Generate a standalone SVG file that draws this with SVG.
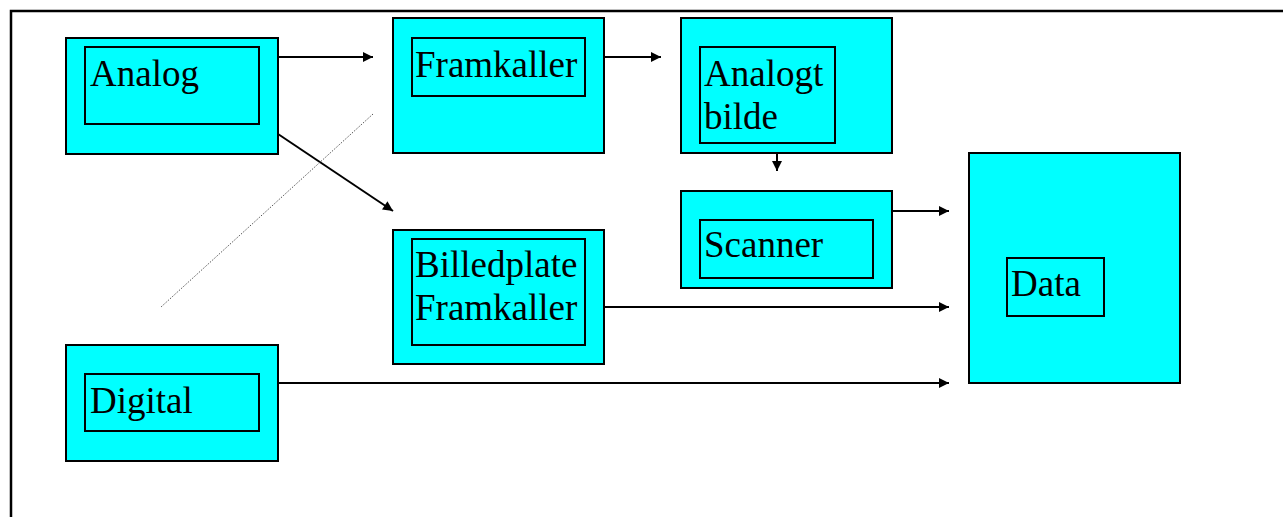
<svg xmlns="http://www.w3.org/2000/svg" width="1283" height="517" viewBox="0 0 1283 517">
<style>
.o{fill:#00ffff;stroke:#000;stroke-width:2}
.i{fill:#00ffff;stroke:#000;stroke-width:2}
text{font-family:"Liberation Serif","Times New Roman",serif;font-size:37px;fill:#000}
.c{stroke:#000;stroke-width:2;fill:none;marker-end:url(#a)}
</style>
<defs>
<marker id="a" viewBox="0 0 10 10" refX="10" refY="5" markerWidth="5.5" markerHeight="5" orient="auto" markerUnits="strokeWidth">
<path d="M0,0L10,5L0,10z" fill="#000"/>
</marker>
</defs>
<rect width="1283" height="517" fill="#fff"/>
<path d="M11,517V11H1283" fill="none" stroke="#000" stroke-width="2.5"/>
<g id="analog"><rect class="o" x="66" y="38" width="212" height="116"/><rect class="i" x="85" y="47" width="174" height="77"/><text x="90" y="86">Analog</text></g>
<g id="framkaller"><rect class="o" x="393" y="18" width="211" height="135"/><rect class="i" x="412" y="38" width="173" height="58"/><text x="415" y="77">Framkaller</text></g>
<g id="analogt"><rect class="o" x="681" y="18" width="211" height="135"/><rect class="i" x="700" y="47" width="135" height="96"/><text x="704" y="86">Analogt</text><text x="704" y="129">bilde</text></g>
<g id="scanner"><rect class="o" x="681" y="191" width="211" height="97"/><rect class="i" x="700" y="220" width="173" height="58"/><text x="704" y="257">Scanner</text></g>
<g id="data"><rect class="o" x="969" y="153" width="211" height="230"/><rect class="i" x="1007" y="258" width="97" height="58"/><text x="1011" y="296">Data</text></g>
<g id="billedplate"><rect class="o" x="393" y="230" width="211" height="134"/><rect class="i" x="412" y="239" width="173" height="106"/><text x="415" y="277">Billedplate</text><text x="415" y="320">Framkaller</text></g>
<g id="digital"><rect class="o" x="66" y="345" width="212" height="116"/><rect class="i" x="85" y="374" width="174" height="57"/><text x="90" y="413">Digital</text></g>
<g id="connectors">
<path class="c" d="M278,57H373"/>
<path class="c" d="M604,57H661"/>
<path class="c" d="M777,153V171"/>
<path class="c" d="M278,134L393,211"/>
<path class="c" d="M892,211H949"/>
<path class="c" d="M604,307H949"/>
<path class="c" d="M278,383H949"/>
<path d="M373,114L161,307" stroke="#555" stroke-width="1" stroke-dasharray="1.5,1.5" fill="none"/>
</g>
</svg>
